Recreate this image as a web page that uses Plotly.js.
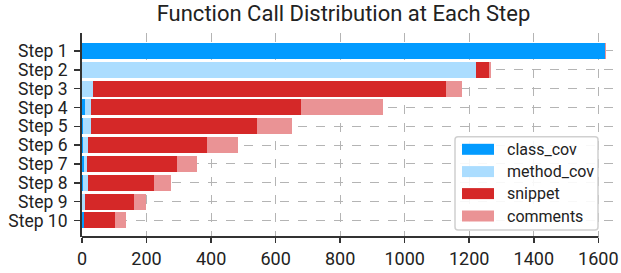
<!DOCTYPE html>
<html>
<head>
<meta charset="utf-8">
<script src="https://cdn.plot.ly/plotly-3.0.1.min.js"></script>
<style>html,body{margin:0;padding:0;background:#fff}#chart{width:621px;height:273px}</style>
</head>
<body>
<div id="chart"></div>
<script>
const steps = ["Step 1","Step 2","Step 3","Step 4","Step 5","Step 6","Step 7","Step 8","Step 9","Step 10"];
const seriesNames = ["class_cov","method_cov","snippet","comments"];
const classCov  = [1621, 0, 0, 9, 2, 3, 6, 2, 1, 6];
const methodCov = [0, 1221, 34, 19, 26, 15, 9, 17, 8, 0];
const snippet   = [0, 40, 1094, 651, 514, 369, 278, 204, 152, 96];
const comments  = [2, 6, 50, 254, 108, 96, 63, 53, 37, 34];
const xTicks = [0, 200, 400, 600, 800, 1000, 1200, 1400, 1600];

const colors = ["#039bff", "#abddff", "#d52828", "#ea9395"];
const values = [classCov, methodCov, snippet, comments];

const W = 621, H = 273;
const M = {l: 82, r: 0, t: 33, b: 36};
const pw = W - M.l - M.r, ph = H - M.t - M.b;
const px = x => (x - M.l) / pw;
const py = y => 1 - (y - M.t) / ph;

const traces = seriesNames.map((name, i) => ({
  type: "bar", orientation: "h", name: name,
  y: steps, x: values[i],
  marker: {color: colors[i], line: {width: 0}},
  width: 0.85, showlegend: false, hoverinfo: "x+name"
}));

// custom legend
const shapes = [];
const annotations = [];
const lx0 = 455, lx1 = 598, ly0 = 136.7, ly1 = 230, r = 3;
shapes.push({
  type: "path", xref: "paper", yref: "paper", layer: "above",
  path: `M${px(lx0+r)},${py(ly0)} L${px(lx1-r)},${py(ly0)} Q${px(lx1)},${py(ly0)} ${px(lx1)},${py(ly0+r)} L${px(lx1)},${py(ly1-r)} Q${px(lx1)},${py(ly1)} ${px(lx1-r)},${py(ly1)} L${px(lx0+r)},${py(ly1)} Q${px(lx0)},${py(ly1)} ${px(lx0)},${py(ly1-r)} L${px(lx0)},${py(ly0+r)} Q${px(lx0)},${py(ly0)} ${px(lx0+r)},${py(ly0)} Z`,
  fillcolor: "rgba(255,255,255,0.9)", line: {color: "#d0d0d0", width: 1.5}
});
const rowY = [149.3, 171.6, 193.6, 216];
seriesNames.forEach((name, i) => {
  shapes.push({
    type: "rect", xref: "paper", yref: "paper", layer: "above",
    x0: px(462), x1: px(494), y0: py(rowY[i] - 5.5), y1: py(rowY[i] + 5.5),
    fillcolor: colors[i], line: {width: 0}
  });
  annotations.push({
    xref: "paper", yref: "paper", x: px(505), y: py(rowY[i]),
    xanchor: "left", yanchor: "middle", showarrow: false,
    text: name, font: {family: "Roboto", size: 16, color: "#222"}
  });
});
// bottom spine ending at last tick
shapes.push({
  type: "line", xref: "x", yref: "paper", layer: "above",
  x0: 0, x1: xTicks[xTicks.length - 1], y0: 0, y1: 0,
  line: {color: "#333", width: 2}
});

const layout = {
  width: W, height: H,
  margin: M,
  paper_bgcolor: "#fff", plot_bgcolor: "#fff",
  barmode: "stack", bargap: 0,
  font: {family: "Roboto", color: "#222"},
  title: {
    text: "Function Call Distribution at Each Step",
    font: {family: "Roboto", size: 22, color: "#222"},
    x: 343.5 / W, xref: "container", xanchor: "center",
    y: 1 - 5.5 / H, yref: "container", yanchor: "top", pad: {t: 0, b: 0}
  },
  xaxis: {
    range: [0, pw / 0.3227], tickvals: xTicks,
    showgrid: true, gridcolor: "#b4b4b4", griddash: "dash", gridwidth: 1,
    zeroline: false, showline: false,
    ticks: "outside", ticklen: 5, tickwidth: 1.5, tickcolor: "#333",
    tickfont: {family: "Roboto", size: 18, color: "#222"}
  },
  yaxis: {
    type: "category", categoryorder: "array", categoryarray: steps,
    tickmode: "array", tickvals: steps, ticktext: steps,
    range: [9.88, -0.954],
    showgrid: true, gridcolor: "#b4b4b4", griddash: "dash", gridwidth: 1,
    zeroline: false, showline: true, linecolor: "#333", linewidth: 2,
    ticks: "outside", ticklen: 6, tickwidth: 1.5, tickcolor: "#333",
    ticklabelstandoff: 3,
    tickfont: {family: "Roboto", size: 17.5, color: "#222"}
  },
  shapes: shapes,
  annotations: annotations
};

Plotly.newPlot("chart", traces, layout, {displayModeBar: false, staticPlot: true});
</script>
</body>
</html>
